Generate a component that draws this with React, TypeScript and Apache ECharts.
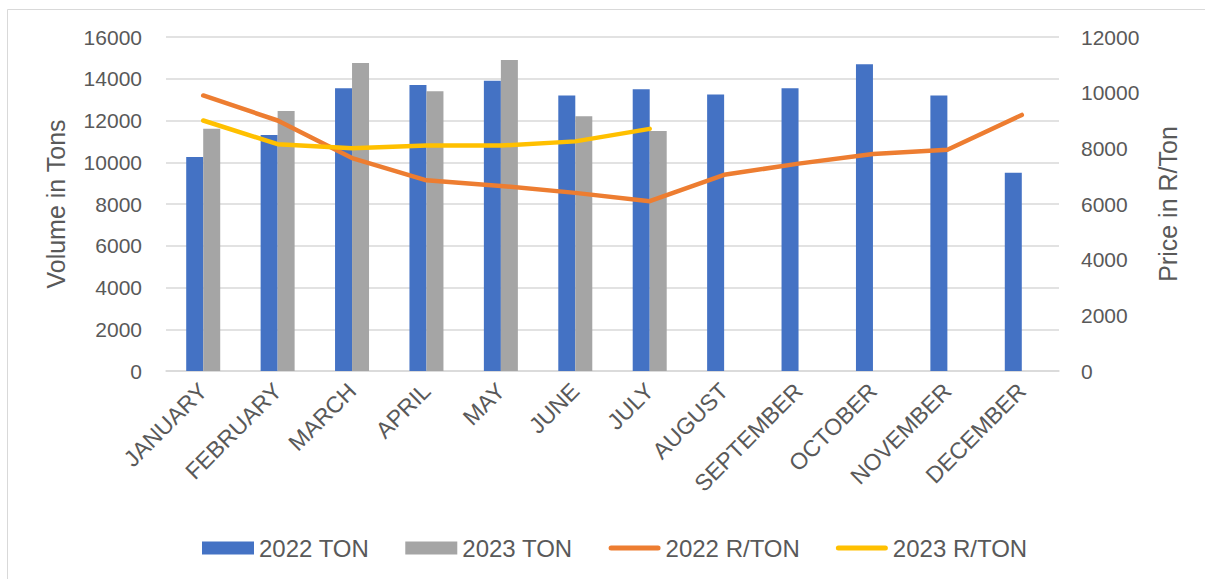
import React, { useEffect, useRef } from "react";
import * as echarts from "echarts";

const months = ["JANUARY", "FEBRUARY", "MARCH", "APRIL", "MAY", "JUNE", "JULY", "AUGUST", "SEPTEMBER", "OCTOBER", "NOVEMBER", "DECEMBER"];
const ton2022 = [10250, 11300, 13550, 13700, 13900, 13200, 13500, 13250, 13550, 14700, 13200, 9500];
const ton2023 = [11600, 12450, 14750, 13400, 14900, 12200, 11500, null, null, null, null, null];
const price2022 = [9900, 9000, 7650, 6850, 6650, 6400, 6100, 7050, 7450, 7800, 7950, 9200];
const price2023 = [9000, 8150, 8000, 8100, 8100, 8250, 8700, null, null, null, null, null];
const volumeTicks = { min: 0, max: 16000, interval: 2000 };
const priceTicks = { min: 0, max: 12000, interval: 2000 };

const FONT = "'Liberation Sans', Arial, sans-serif";
const TXT = "#595959";
const GRID = "#D9D9D9";
const LINE_ICON = "path://M2.5,0 L49.5,0 A2.5,2.5 0 0 1 49.5,5 L2.5,5 A2.5,2.5 0 0 1 2.5,0 Z";

export default function App() {
  const ref = useRef<HTMLDivElement>(null);
  useEffect(() => {
    document.body.style.margin = "0";
    const chart = echarts.init(ref.current!, null, { renderer: "svg" });
    chart.setOption({
      animation: false,
      textStyle: { fontFamily: FONT, color: TXT },
      graphic: [
        {
          type: "rect",
          shape: { x: 7.5, y: 9.5, width: 1300, height: 700 },
          style: { fill: "none", stroke: GRID, lineWidth: 1 },
          silent: true,
        },
      ],
      grid: { left: 166, right: 146, top: 37, bottom: 208, containLabel: false },
      legend: {
        left: 197,
        top: 531,
        itemWidth: 52,
        itemHeight: 13,
        itemGap: 36,
        symbolKeepAspect: true,
        textStyle: { fontSize: 24, color: TXT, fontFamily: FONT },
        data: [
          { name: "2022 TON", icon: "rect" },
          { name: "2023 TON", icon: "rect" },
          { name: "2022 R/TON", icon: LINE_ICON },
          { name: "2023 R/TON", icon: LINE_ICON },
        ],
      },
      xAxis: {
        type: "category",
        data: months,
        axisLine: { lineStyle: { color: GRID, width: 1.5 } },
        axisTick: { show: false },
        axisLabel: { rotate: 45, margin: 16, fontSize: 23, color: TXT, fontFamily: FONT, interval: 0 },
      },
      yAxis: [
        {
          type: "value",
          ...volumeTicks,
          name: "Volume in Tons",
          nameLocation: "middle",
          nameGap: 98,
          nameTextStyle: { fontSize: 25, color: TXT, fontFamily: FONT },
          axisLine: { show: false },
          axisTick: { show: false },
          axisLabel: { margin: 24, fontSize: 21, color: TXT, fontFamily: FONT, formatter: (v: number) => String(v) },
          splitLine: { lineStyle: { color: GRID, width: 1.5 } },
        },
        {
          type: "value",
          ...priceTicks,
          position: "right",
          name: "Price in R/Ton",
          nameLocation: "middle",
          nameGap: 96,
          nameRotate: 90,
          nameTextStyle: { fontSize: 25, color: TXT, fontFamily: FONT },
          axisLine: { show: false },
          axisTick: { show: false },
          axisLabel: { margin: 22, fontSize: 21, color: TXT, fontFamily: FONT, formatter: (v: number) => String(v) },
          splitLine: { show: false },
        },
      ],
      series: [
        { name: "2022 TON", type: "bar", data: ton2022, barWidth: 17, barGap: "0%", itemStyle: { color: "#4472C4" } },
        { name: "2023 TON", type: "bar", data: ton2023, barWidth: 17, barGap: "0%", itemStyle: { color: "#A5A5A5" } },
        {
          name: "2022 R/TON", type: "line", yAxisIndex: 1, data: price2022, symbol: "none",
          lineStyle: { color: "#ED7D31", width: 4.5, cap: "round", join: "round" }, itemStyle: { color: "#ED7D31" },
        },
        {
          name: "2023 R/TON", type: "line", yAxisIndex: 1, data: price2023, symbol: "none",
          lineStyle: { color: "#FFC000", width: 4.5, cap: "round", join: "round" }, itemStyle: { color: "#FFC000" },
        },
      ],
    });
    return () => chart.dispose();
  }, []);
  return <div ref={ref} style={{ width: 1205, height: 579 }} />;
}
